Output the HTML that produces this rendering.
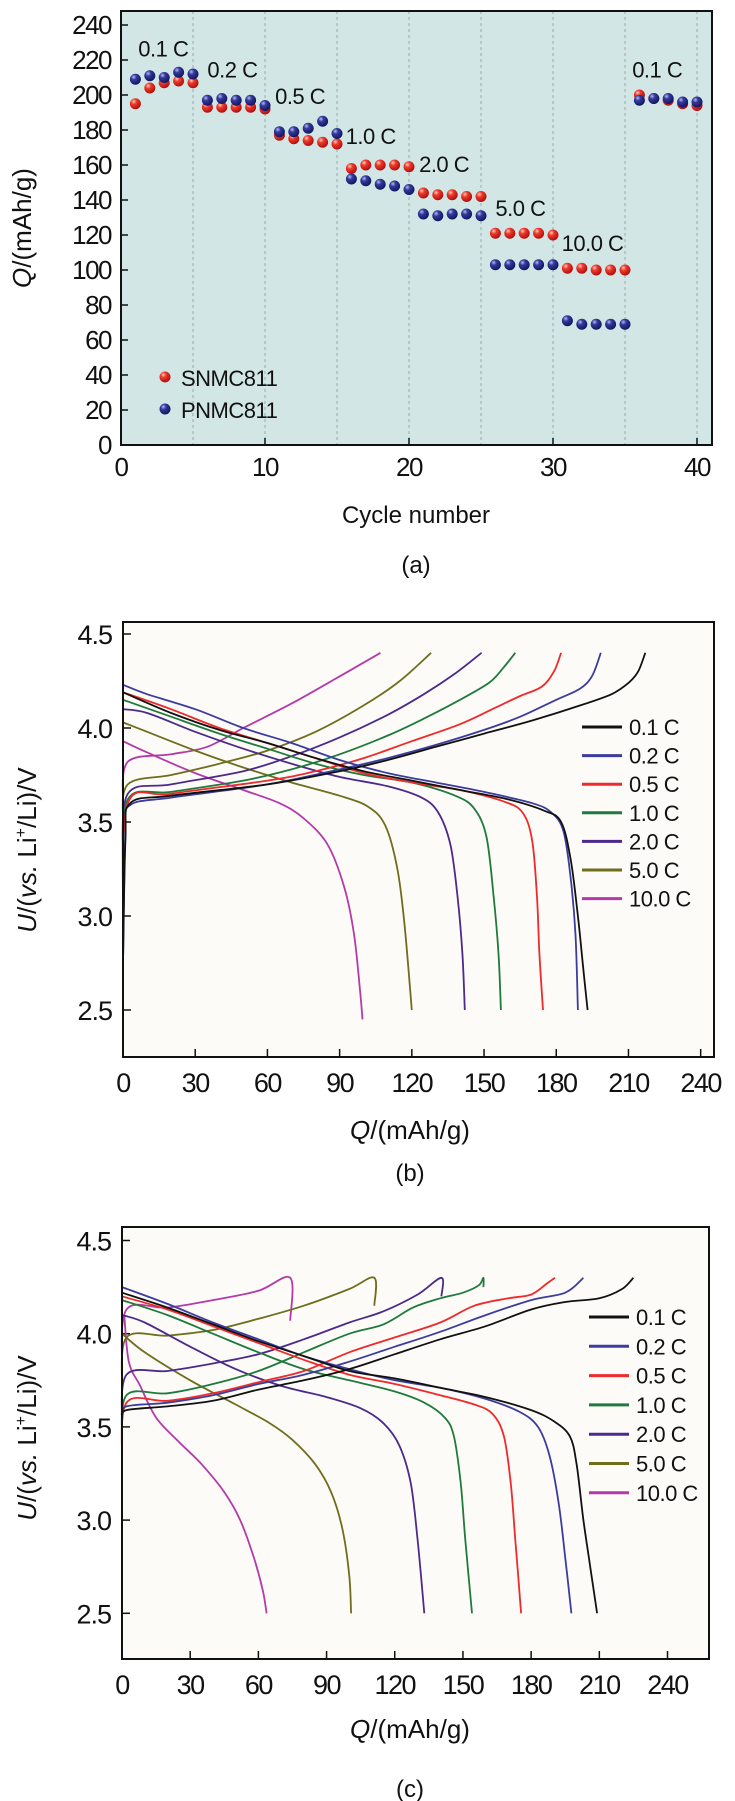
<!DOCTYPE html>
<html><head><meta charset="utf-8">
<style>
html,body{margin:0;padding:0;background:#fff;}
svg{display:block;font-family:"Liberation Sans",Arial,sans-serif;}
</style></head>
<body>
<svg id="fig" width="735" height="1801" viewBox="0 0 735 1801" xmlns="http://www.w3.org/2000/svg">
<defs>
<radialGradient id="gRed" cx="0.35" cy="0.3" r="0.7"><stop offset="0" stop-color="#ffd0c8"/><stop offset="0.35" stop-color="#f03a2a"/><stop offset="1" stop-color="#b01010"/></radialGradient>
<radialGradient id="gBlue" cx="0.35" cy="0.3" r="0.7"><stop offset="0" stop-color="#b8bcf0"/><stop offset="0.35" stop-color="#333a9e"/><stop offset="1" stop-color="#141660"/></radialGradient>
</defs>
<g id="pa"></g>
<g id="pb"></g>
<g id="pc"></g>
</svg>
<script>
// ---------- Panel (a) data ----------
const cycles = [1,2,3,4,5,6,7,8,9,10,11,12,13,14,15,16,17,18,19,20,21,22,23,24,25,26,27,28,29,30,31,32,33,34,35,36,37,38,39,40];
const snmcCap = [195,204,207,208,207,193,193,193,193,192,177,175,174,173,172,158,160,160,160,159,144,143,143,142,142,121,121,121,121,120,101,101,100,100,100,200,198,197,195,194];
const pnmcCap = [209,211,210,213,212,197,198,197,197,194,179,179,181,185,178,152,151,149,148,146,132,131,132,132,131,103,103,103,103,103,71,69,69,69,69,197,198,198,196,196];
const aYTicks = [0,20,40,60,80,100,120,140,160,180,200,220,240];
const aXTicks = [0,10,20,30,40];
const rateLabels = ["0.1 C","0.2 C","0.5 C","1.0 C","2.0 C","5.0 C","10.0 C","0.1 C"];
const rateLabelCycle = [1.2,6,10.7,15.6,20.7,26,30.6,35.5];
const rateLabelValue = [222,210,195,172,156,131,111,210];

// ---------- Panels (b),(c) data ----------
const rates = ["0.1 C","0.2 C","0.5 C","1.0 C","2.0 C","5.0 C","10.0 C"];
const rateColors = ["#111111","#3c3c9e","#ee2a2a","#1f7a3c","#4b2a8c","#6e6e1c","#b43aaa"];
const vTicks = [2.5,3.0,3.5,4.0,4.5];
const qTicks = [0,30,60,90,120,150,180,210,240];

const bDis = [
 [[0,4.19],[20,4.08],[40,3.99],[60,3.92],[80,3.84],[100,3.77],[120,3.72],[140,3.67],[160,3.62],[175,3.56],[182,3.5],[186,3.3],[189,3.0],[191,2.75],[193,2.5]],
 [[0,4.23],[10,4.18],[30,4.1],[50,4.0],[70,3.92],[90,3.83],[110,3.76],[130,3.71],[150,3.66],[170,3.6],[178,3.55],[183,3.45],[186,3.2],[188,2.9],[189,2.5]],
 [[0,4.19],[20,4.1],[40,4.0],[60,3.92],[80,3.84],[100,3.76],[120,3.71],[140,3.67],[158,3.61],[166,3.55],[170,3.4],[172,3.1],[173,2.8],[174.5,2.5]],
 [[0,4.15],[20,4.06],[40,3.97],[60,3.89],[80,3.81],[100,3.75],[120,3.71],[138,3.64],[146,3.57],[151,3.42],[154,3.1],[156,2.8],[157,2.5]],
 [[0,4.1],[10,4.08],[30,3.98],[50,3.89],[70,3.81],[90,3.74],[110,3.69],[124,3.63],[131,3.55],[136,3.38],[139,3.1],[141,2.8],[142,2.5]],
 [[0,4.03],[10,3.98],[30,3.88],[50,3.79],[70,3.71],[90,3.64],[102,3.58],[109,3.48],[114,3.25],[117,2.95],[120,2.5]],
 [[0,3.93],[10,3.87],[30,3.76],[50,3.67],[65,3.6],[75,3.52],[85,3.38],[92,3.15],[96,2.9],[98.5,2.6],[99.5,2.45]]
];
const bChg = [
 [[0,2.75],[1,3.4],[3,3.6],[20,3.64],[60,3.7],[90,3.77],[110,3.83],[130,3.9],[150,3.97],[170,4.04],[190,4.12],[203,4.18],[210,4.24],[214,4.3],[217,4.4]],
 [[0,2.75],[1,3.45],[3,3.59],[20,3.63],[60,3.7],[90,3.78],[110,3.84],[130,3.91],[150,3.99],[165,4.06],[180,4.15],[190,4.21],[195,4.28],[198.5,4.4]],
 [[0,3.0],[2,3.6],[20,3.65],[60,3.72],[80,3.77],[100,3.84],[120,3.93],[140,4.02],[155,4.11],[165,4.17],[174,4.22],[179,4.3],[182,4.4]],
 [[0,3.2],[2,3.62],[20,3.66],[50,3.72],[70,3.78],[90,3.86],[110,3.96],[125,4.05],[140,4.15],[152,4.24],[158,4.32],[163,4.4]],
 [[0,3.3],[2,3.65],[20,3.7],[50,3.77],[70,3.85],[90,3.95],[110,4.07],[125,4.18],[138,4.29],[149,4.4]],
 [[0,3.5],[2,3.7],[20,3.75],[40,3.81],[60,3.88],[80,3.98],[100,4.12],[115,4.25],[128,4.4]],
 [[0,3.6],[2,3.82],[20,3.86],[35,3.9],[50,4.0],[70,4.13],[88,4.26],[107,4.4]]
];
const cDis = [
 [[0,4.22],[20,4.14],[40,4.05],[60,3.96],[80,3.88],[100,3.8],[120,3.76],[140,3.71],[160,3.66],[180,3.59],[190,3.53],[197,3.45],[200,3.3],[203,3.0],[206,2.75],[209,2.5]],
 [[0,4.25],[20,4.16],[40,4.06],[60,3.97],[80,3.88],[100,3.81],[120,3.75],[140,3.71],[160,3.65],[175,3.58],[183,3.5],[188,3.35],[192,3.1],[195,2.8],[197.7,2.5]],
 [[0,4.2],[20,4.13],[40,4.04],[60,3.95],[80,3.86],[100,3.78],[120,3.73],[140,3.67],[155,3.62],[163,3.57],[168,3.45],[171,3.2],[173,2.9],[175.6,2.5]],
 [[0,4.18],[20,4.1],[40,4.0],[60,3.9],[80,3.81],[100,3.75],[120,3.69],[133,3.63],[142,3.55],[146,3.45],[149,3.2],[151,2.9],[154,2.5]],
 [[0,4.1],[10,4.06],[30,3.93],[50,3.81],[70,3.72],[90,3.66],[105,3.6],[115,3.52],[122,3.4],[127,3.2],[130,2.9],[133,2.5]],
 [[0,4.0],[10,3.9],[30,3.75],[50,3.62],[65,3.52],[75,3.43],[85,3.3],[92,3.15],[97,2.95],[100,2.7],[100.8,2.5]],
 [[1,4.1],[3,3.85],[8,3.72],[15,3.55],[25,3.42],[35,3.3],[45,3.15],[52,3.0],[58,2.8],[62,2.62],[63.6,2.5]]
];
const cChg = [
 [[0,3.55],[2,3.59],[20,3.61],[40,3.64],[60,3.7],[80,3.75],[100,3.81],[120,3.89],[140,3.97],[160,4.04],[180,4.13],[195,4.17],[210,4.19],[220,4.24],[225,4.3]],
 [[0,3.55],[2,3.61],[20,3.63],[40,3.67],[60,3.73],[80,3.78],[100,3.85],[120,3.93],[140,4.01],[160,4.1],[180,4.18],[195,4.22],[203,4.3]],
 [[0,3.3],[2,3.63],[20,3.64],[40,3.68],[60,3.74],[80,3.8],[100,3.9],[120,3.98],[140,4.06],[155,4.15],[170,4.19],[180,4.21],[187,4.27],[190.5,4.3]],
 [[0,3.4],[2,3.67],[20,3.68],[40,3.73],[60,3.8],[80,3.9],[100,4.0],[115,4.05],[128,4.14],[140,4.19],[150,4.22],[157,4.26],[159,4.3],[159,4.25]],
 [[0,3.5],[2,3.78],[20,3.8],[40,3.84],[60,3.89],[80,3.97],[100,4.06],[115,4.12],[130,4.21],[140.5,4.3],[140.5,4.2]],
 [[0,3.7],[2,3.98],[20,3.99],[40,4.02],[60,4.08],[80,4.15],[100,4.24],[111,4.3],[111,4.15]],
 [[0,3.8],[2,4.13],[20,4.14],[40,4.18],[60,4.23],[74,4.3],[74,4.07]]
];

const NS = "http://www.w3.org/2000/svg";
function mk(parent, tag, attrs, text) {
  const e = document.createElementNS(NS, tag);
  for (const k in attrs) e.setAttribute(k, attrs[k]);
  if (text !== undefined) e.textContent = text;
  parent.appendChild(e);
  return e;
}
// Catmull-Rom smoothing to cubic bezier path
function smoothPath(P){
  let d = 'M'+P[0][0].toFixed(1)+','+P[0][1].toFixed(1);
  for (let i=0;i<P.length-1;i++){
    const p0 = P[i-1]||P[i], p1=P[i], p2=P[i+1], p3=P[i+2]||P[i+1];
    const t = 1/6;
    const c1x = p1[0]+(p2[0]-p0[0])*t, c1y = p1[1]+(p2[1]-p0[1])*t;
    const c2x = p2[0]-(p3[0]-p1[0])*t, c2y = p2[1]-(p3[1]-p1[1])*t;
    d += ' C'+c1x.toFixed(1)+','+c1y.toFixed(1)+' '+c2x.toFixed(1)+','+c2y.toFixed(1)+' '+p2[0].toFixed(1)+','+p2[1].toFixed(1);
  }
  return d;
}

// ===== Panel (a) =====
(function(){
  const g = document.getElementById('pa');
  const L=121, R=712, T=11, B=445;
  const xS = v => L + v*14.4;
  const yS = v => B - v*1.75;
  const bg = mk(g,'rect',{x:L,y:T,width:R-L,height:B-T,fill:'#d2e7e5'});
  
  
  for (let c=5;c<=40;c+=5){
    const l = mk(g,'line',{x1:xS(c),x2:xS(c),y1:T,y2:B,stroke:'#9aa',"stroke-width":1,"stroke-dasharray":"3,3"});
    
    
  }
  aYTicks.forEach(v=>{
    const t = mk(g,'line',{x1:L,x2:L+7,y1:yS(v),y2:yS(v),stroke:'#111',"stroke-width":1.5});
    
    
    const tx = mk(g,'text',{x:111,y:yS(v)+9,"text-anchor":"end","font-size":26,"letter-spacing":"-1.5",fill:'#111'},String(v));
    
    
  });
  aXTicks.forEach(v=>{
    const t = mk(g,'line',{x1:xS(v),x2:xS(v),y1:B,y2:B-7,stroke:'#111',"stroke-width":1.5});
    
    
    const tx = mk(g,'text',{x:xS(v),y:B+31,"text-anchor":"middle","font-size":26,"letter-spacing":"-1.5",fill:'#111'},String(v));
    
    
  });
  rateLabels.forEach((s,i)=>{
    const tx = mk(g,'text',{x:xS(rateLabelCycle[i]),y:yS(rateLabelValue[i]),"font-size":22,"letter-spacing":"-0.5",fill:'#111'},s);
    
    
  });
  cycles.forEach((c,i)=>{
    const p = mk(g,'circle',{cx:xS(c),cy:yS(snmcCap[i]),r:5.5,fill:'url(#gRed)'});
    
    
  });
  cycles.forEach((c,i)=>{
    const p = mk(g,'circle',{cx:xS(c),cy:yS(pnmcCap[i]),r:5.5,fill:'url(#gBlue)'});
    
    
  });
  const fr = mk(g,'rect',{x:L,y:T,width:R-L,height:B-T,fill:'none',stroke:'#111',"stroke-width":2});
  
  
  const lg = mk(g,'g',{});
  
  
  const d1 = mk(lg,'circle',{cx:165,cy:377,r:5.5,fill:'url(#gRed)'});
  
  
  const t1 = mk(lg,'text',{x:181,y:386,"font-size":22,"letter-spacing":"-0.5",fill:'#111'},'SNMC811');
  
  
  const d2 = mk(lg,'circle',{cx:165,cy:409,r:5.5,fill:'url(#gBlue)'});
  
  
  const t2 = mk(lg,'text',{x:181,y:418,"font-size":22,"letter-spacing":"-0.5",fill:'#111'},'PNMC811');
  
  
  const yt = mk(g,'text',{x:0,y:0,transform:'translate(31,228) rotate(-90)',"text-anchor":"middle","font-size":26,fill:'#111'});
  
  
  mk(yt,'tspan',{"font-style":"italic"},'Q');
  mk(yt,'tspan',{},'/(mAh/g)');
  const xt = mk(g,'text',{x:416,y:523,"text-anchor":"middle","font-size":24,fill:'#111'},'Cycle number');
  
  
  const cap = mk(g,'text',{x:416,y:573,"text-anchor":"middle","font-size":24,fill:'#111'},'(a)');
  
  
})();

// ===== Panels (b),(c) =====
function voltagePanel(id, cfg, dis, chg, suffix){
  const g = document.getElementById(id);
  const xS = q => cfg.L + q*cfg.qs;
  const yS = v => cfg.y45 + (4.5 - v)*cfg.vs;
  const bg = mk(g,'rect',{x:cfg.L,y:cfg.T,width:cfg.R-cfg.L,height:cfg.B-cfg.T,fill:'#fcfbf8'});
  
  
  vTicks.forEach(v=>{
    const t = mk(g,'line',{x1:cfg.L,x2:cfg.L+8,y1:yS(v),y2:yS(v),stroke:'#111',"stroke-width":1.5});
    
    
    const tx = mk(g,'text',{x:cfg.L-11,y:yS(v)+10,"text-anchor":"end","font-size":cfg.fs,"letter-spacing":"-1",fill:'#111'},v.toFixed(1));
    
    
  });
  qTicks.forEach(q=>{
    const t = mk(g,'line',{x1:xS(q),x2:xS(q),y1:cfg.B,y2:cfg.B-8,stroke:'#111',"stroke-width":1.5});
    
    
    const tx = mk(g,'text',{x:xS(q),y:cfg.B+35,"text-anchor":"middle","font-size":cfg.fs,"letter-spacing":"-1.5",fill:'#111'},String(q));
    
    
  });
  const pp = arr => arr.map(p=>[xS(p[0]), yS(p[1])]);
  for (let i=rates.length-1;i>=0;i--){
    const c = mk(g,'path',{d:smoothPath(pp(chg[i])),fill:'none',stroke:rateColors[i],"stroke-width":1.8,"stroke-linejoin":"round"});
    
    
    const d = mk(g,'path',{d:smoothPath(pp(dis[i])),fill:'none',stroke:rateColors[i],"stroke-width":1.8,"stroke-linejoin":"round"});
    
    
  }
  const fr = mk(g,'rect',{x:cfg.L,y:cfg.T,width:cfg.R-cfg.L,height:cfg.B-cfg.T,fill:'none',stroke:'#111',"stroke-width":2});
  
  
  const lg = mk(g,'g',{});
  
  
  rates.forEach((r,i)=>{
    const y = cfg.lgY + i*cfg.lgS;
    const ln = mk(lg,'line',{x1:cfg.lgX,x2:cfg.lgX+40,y1:y,y2:y,stroke:rateColors[i],"stroke-width":3});
    
    
    const tx = mk(lg,'text',{x:cfg.lgX+47,y:y+8,"font-size":cfg.lfs,"letter-spacing":"-0.5",fill:'#111'},r);
    
    
  });
  const yt = mk(g,'text',{x:0,y:0,transform:'translate('+cfg.ytX+','+cfg.ytY+') rotate(-90)',"text-anchor":"middle","font-size":26,fill:'#111'});
  
  
  mk(yt,'tspan',{"font-style":"italic"},'U');
  mk(yt,'tspan',{},'/(');
  mk(yt,'tspan',{"font-style":"italic"},'vs.');
  mk(yt,'tspan',{},' Li');
  mk(yt,'tspan',{"font-size":16,dy:-10},'+');
  mk(yt,'tspan',{dy:10},'/Li)/V');
  const xt = mk(g,'text',{x:cfg.xtX,y:cfg.xtY,"text-anchor":"middle","font-size":26,fill:'#111'});
  
  
  mk(xt,'tspan',{"font-style":"italic"},'Q');
  mk(xt,'tspan',{},'/(mAh/g)');
  const cap = mk(g,'text',{x:cfg.xtX,y:cfg.capY,"text-anchor":"middle","font-size":24,fill:'#111'},cfg.cap);
  
  
}
voltagePanel('pb',{L:123,R:714,T:622,B:1057,qs:2.407,y45:634,vs:188,fs:27,lgX:582,lgY:727,lgS:28.6,lfs:22,ytX:36,ytY:850,xtX:410,xtY:1139,capY:1181,cap:'(b)'}, bDis, bChg, 'b');
voltagePanel('pc',{L:122,R:709,T:1227,B:1659,qs:2.273,y45:1240.5,vs:186.4,fs:27,lgX:589,lgY:1317,lgS:29.3,lfs:22,ytX:36,ytY:1438,xtX:410,xtY:1738,capY:1797,cap:'(c)'}, cDis, cChg, 'c');
</script>
</body></html>
